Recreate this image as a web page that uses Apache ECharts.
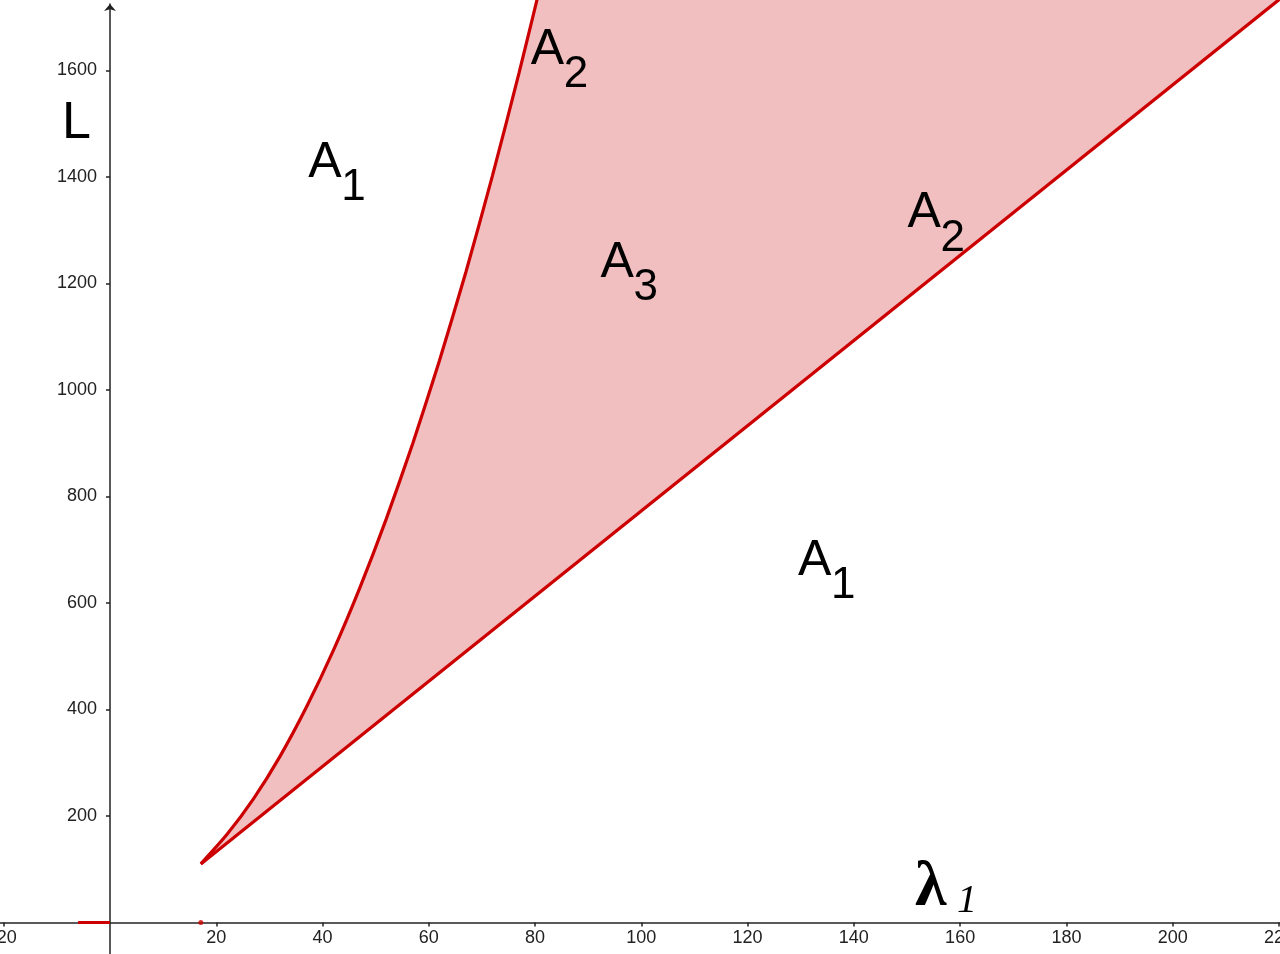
<!DOCTYPE html>
<html>
<head>
<meta charset="utf-8">
<script src="https://cdn.jsdelivr.net/npm/echarts@6/dist/echarts.min.js"></script>
<style>
html, body { margin: 0; padding: 0; background: #fff; overflow: hidden; }
#chart { width: 1280px; height: 954px; }
</style>
</head>
<body>
<div id="chart"></div>
<script>
// boundary curve (lambda_1 , L)
var curveLambda = [17.1, 22, 27, 32, 37, 42, 47, 52, 57, 62, 67, 72, 77, 82];
var curveL      = [110, 165, 232, 312, 405, 510, 628, 758, 900, 1055, 1222, 1403, 1596, 1800];
// straight boundary
var lineLambda = [17.1, 225];
var lineL      = [110, 1773];
// ticks
var xTicks = [-20, 20, 40, 60, 80, 100, 120, 140, 160, 180, 200, 220];
var yTicks = [200, 400, 600, 800, 1000, 1200, 1400, 1600];
// region names
var regionNames  = ['A', 'A', 'A', 'A', 'A'];
var regionSubs   = ['1', '2', '3', '2', '1'];
var regionLambda = [37.3, 79.2, 92.3, 150.1, 129.5];
var regionL      = [1434, 1646, 1246, 1339, 686];
// small red marks lying on the lambda axis
var axisMarkLambda = [-6, 0];
var axisPointLambda = [17.1];

var RED = '#cc0000' ;
var PINK = '#f2bfc1' ;
var INK = '#222' ;

var chart = echarts.init( document.getElementById( 'chart' ) ) ;

function pairs( xs, ys )
{
   var out = [] ;
   for( var i = 0; i < xs.length; ++i ) out.push( [ xs[i], ys[i] ] ) ;
   return out ;
}
function plain( v ){ return String( v ) ; }

//axes sit on the zero lines: moved in from the grid edges
var option = {
   animation: false,
   grid: { left: 0, right: 0, top: 4, bottom: 0, containLabel: false, outerBoundsMode: 'none' },
   xAxis: {
      type: 'value', min: -20.7, max: 220.2, offset: -31.5,
      splitLine: { show: false },
      axisLine: { onZero: false, lineStyle: { color: INK, width: 1.5 } },
      axisTick: { show: true, length: 4, lineStyle: { color: INK, width: 1.5 }, customValues: xTicks },
      axisLabel: { customValues: xTicks, formatter: plain, margin: 7, fontSize: 18, color: INK, fontFamily: 'Liberation Sans' }
   },
   yAxis: {
      type: 'value', min: -59.2, max: 1724.9, offset: -110,
      splitLine: { show: false },
      axisLine: { onZero: false, symbol: [ 'none', 'arrow' ], symbolSize: [ 9, 7 ], lineStyle: { color: INK, width: 1.5 } },
      axisTick: { show: true, length: 4, lineStyle: { color: INK, width: 1.5 }, customValues: yTicks },
      axisLabel: { customValues: yTicks, formatter: plain, margin: 13, fontSize: 18, color: INK, fontFamily: 'Liberation Sans' }
   },
   graphic: [
      { type: 'text', x: 62, y: 124, z: 10, style: { text: 'L', font: '52px "Liberation Sans"', fill: '#000', verticalAlign: 'middle' } },
      { type: 'text', x: 915, y: 888, z: 10, style: { text: 'λ', font: 'bold 64px "Liberation Serif"', fill: '#000', verticalAlign: 'middle' } },
      { type: 'text', x: 957, y: 901, z: 10, style: { text: '1', font: 'italic 40px "Liberation Serif"', fill: '#000', verticalAlign: 'middle' } }
   ],
   series: [
      {
         // shaded region between the two boundaries
         type: 'custom', z: 1, silent: true, clip: false,
         data: [ [ 0, 0 ] ],
         renderItem: function( params, api ){
            var pts = [] ;
            for( var i = 0; i < curveLambda.length; ++i ) pts.push( api.coord( [ curveLambda[i], curveL[i] ] ) ) ;
            for( var j = lineLambda.length - 1; j >= 0; --j ) pts.push( api.coord( [ lineLambda[j], lineL[j] ] ) ) ;
            return { type: 'polygon', shape: { points: pts }, style: { fill: PINK } } ;
         }
      },
      {
         type: 'line', z: 3, clip: false, smooth: 0.2, symbol: 'none',
         data: pairs( curveLambda, curveL ),
         lineStyle: { color: RED, width: 3.2 }
      },
      {
         type: 'line', z: 3, clip: false, symbol: 'none',
         data: pairs( lineLambda, lineL ),
         lineStyle: { color: RED, width: 3.2 }
      },
      {
         type: 'line', z: 3, symbol: 'none',
         data: pairs( axisMarkLambda, [ 0, 0 ] ),
         lineStyle: { color: RED, width: 3 }
      },
      {
         type: 'scatter', z: 3, symbolSize: 5,
         data: pairs( axisPointLambda, [ 0 ] ),
         itemStyle: { color: RED }
      },
      {
         // region names with subscripts
         type: 'custom', z: 5, silent: true, clip: false,
         data: pairs( regionLambda, regionL ),
         renderItem: function( params, api ){
            var p = api.coord( [ api.value( 0 ), api.value( 1 ) ] ) ;
            var i = params.dataIndex ;
            return {
               type: 'group',
               children: [
                  { type: 'text', x: p[0], y: p[1] + 4, style: { text: regionNames[i], font: '50px "Liberation Sans"', fill: '#000', verticalAlign: 'middle' } },
                  { type: 'text', x: p[0] + 33, y: p[1] + 29, style: { text: regionSubs[i], font: '44px "Liberation Sans"', fill: '#000', verticalAlign: 'middle' } }
               ]
            } ;
         }
      }
   ]
} ;
chart.setOption( option ) ;
</script>
</body>
</html>
